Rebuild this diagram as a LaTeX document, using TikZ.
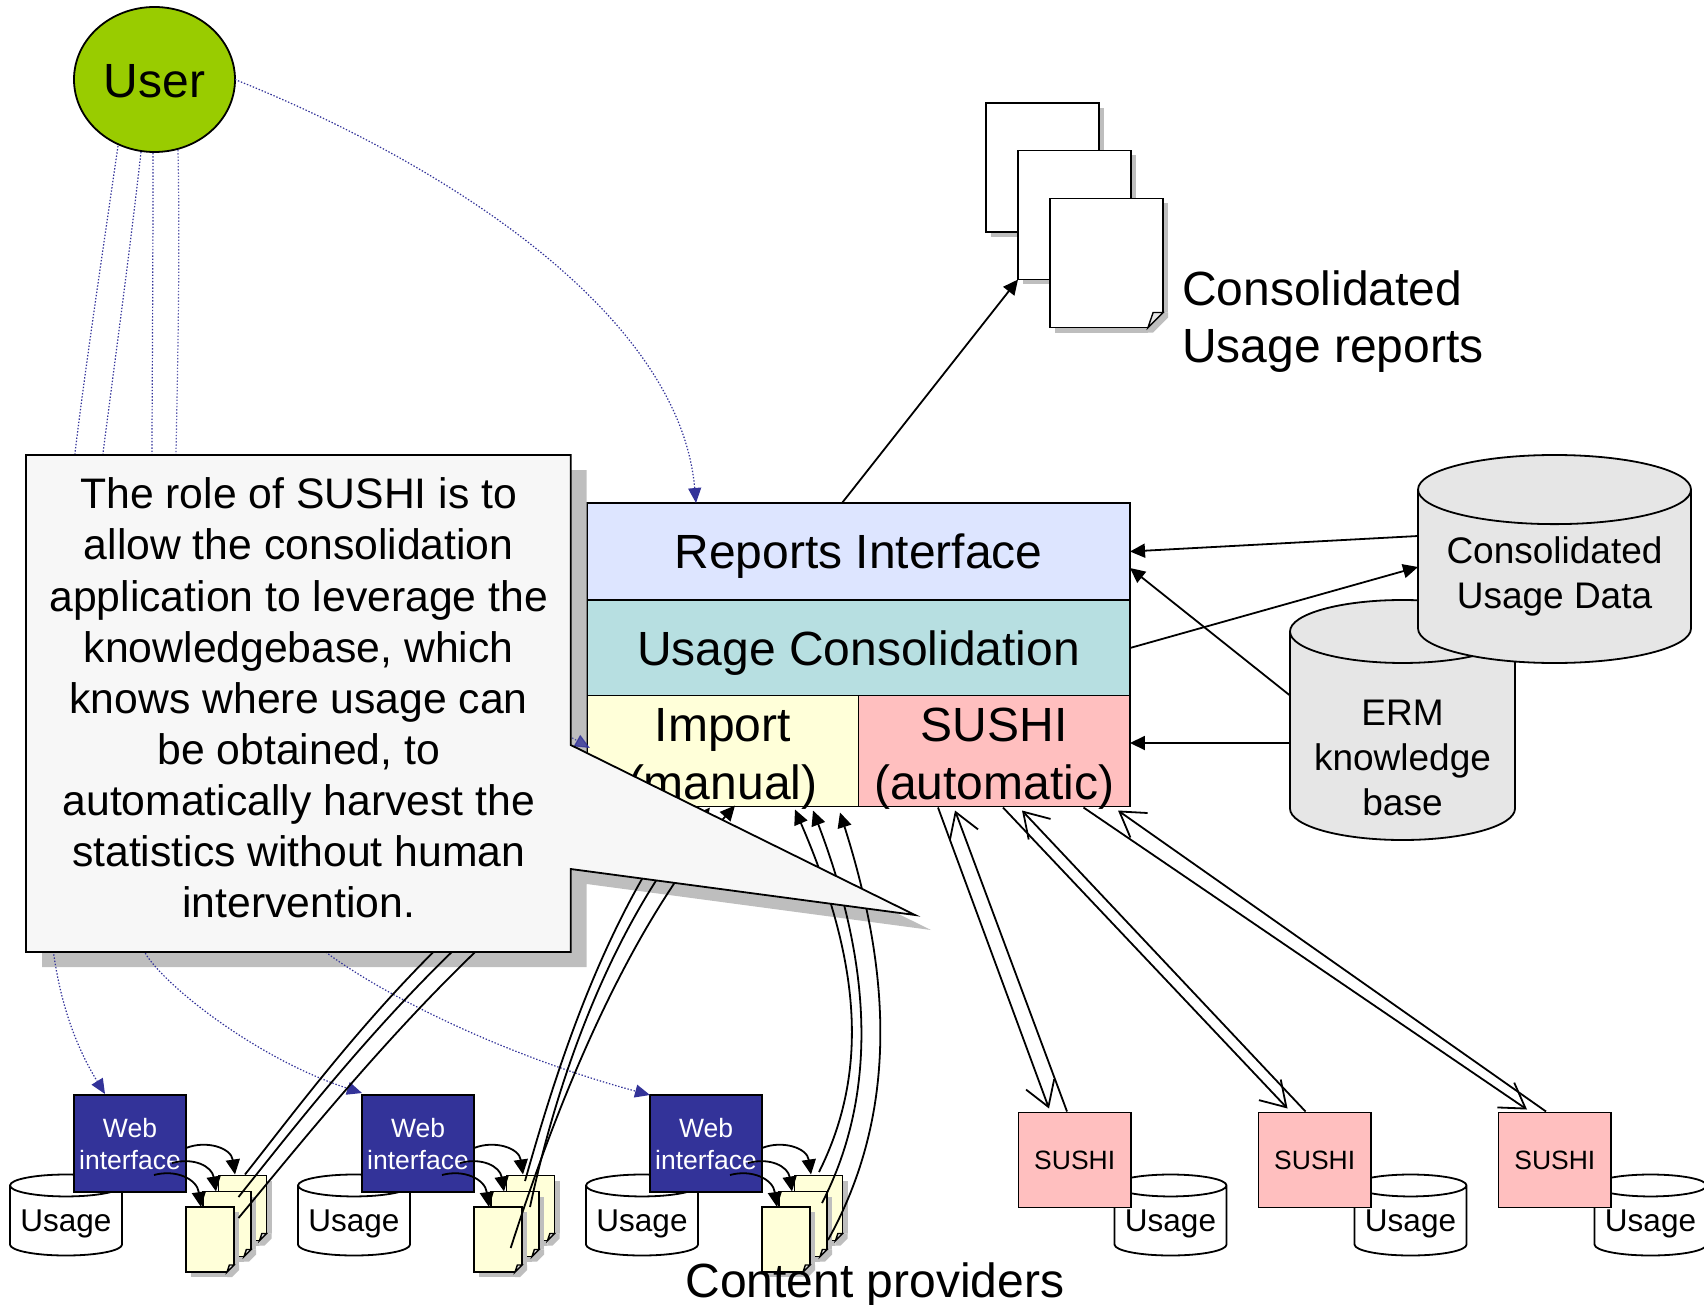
\documentclass[tikz,border=0pt]{standalone}
\usepackage{fontspec}
\setmainfont{Liberation Sans}
\usetikzlibrary{arrows.meta}
\usetikzlibrary{calc}
\usetikzlibrary{shadows}
\usetikzlibrary{shapes.geometric}
\definecolor{linkblue}{HTML}{333399}
\definecolor{usergreen}{HTML}{99CC00}
\definecolor{reportblue}{HTML}{DDE5FF}
\definecolor{consteal}{HTML}{B7DFE1}
\definecolor{paleyellow}{HTML}{FFFFD9}
\definecolor{sushipink}{HTML}{FFBFBF}
\definecolor{dbgray}{HTML}{E6E6E6}
\definecolor{notegray}{HTML}{F7F7F7}
\definecolor{shadowgray}{HTML}{BEBEBE}
\tikzset{
	blocktext/.style={font=\fontsize{48}{57.6}\selectfont, align=center, text depth=0pt},
	smalltext/.style={font=\fontsize{26.5}{32}\selectfont, align=center, text depth=0pt},
	dbtext/.style={font=\fontsize{37}{45}\selectfont, align=center},
	block/.style={draw=black, line width=1.8, inner sep=0, outer sep=0, blocktext},
	webbox/.style={block, fill=linkblue, text=white, smalltext, minimum width=112, minimum height=97},
	sushibox/.style={block, fill=sushipink, smalltext, minimum width=112.5, minimum height=95},
	dbase/.style={cylinder, shape border rotate=90, aspect=#1, draw=black, line width=1.8,
		inner sep=0, outer sep=0, anchor=shape center},
	usagedb/.style={dbase=.241, fill=white, minimum width=112, minimum height=81, text depth=0pt,
		font=\fontsize{31.5}{36}\selectfont},
	sheet/.style={rectangle, draw=black, line width=1.8, inner sep=0, outer sep=0,
		drop shadow={shadow xshift=5pt, shadow yshift=-5pt, opacity=1, fill=shadowgray}},
	bigsheet/.style={sheet, fill=white, minimum width=113, minimum height=129},
	smallsheet/.style={sheet, fill=paleyellow, minimum width=48, minimum height=65},
	feed/.style={draw=black, line width=1.8, -{Triangle[length=15pt,width=14pt]}},
	hook/.style={feed},
	duplex/.style={draw=black, line width=1.8, -{Straight Barb[length=24pt,width=30pt,line width=1.8pt]}},
	dotlink/.style={draw=linkblue, line width=1.2, dash pattern=on 1.4pt off 1.8pt,
		-{Triangle[length=15pt,width=13pt]}}
}
\def\notepath{(26,455) -- (570.7,455) -- (570.7,745) -- (915,915) -- (570.7,869) -- (570.7,952) -- (26,952) -- cycle}
% style, name, position, size of the turned corner
\newcommand{\foldedsheet}[4]{
	\node[#1] (#2) at (#3) {};
	\fill[white] ($(#2.south east)+(-#4,1.5)$) -- ($(#2.south east)+(1.5,-#4)$) -- ($(#2.south east)+(6,-#4)$) -- ($(#2.south east)+(6,6)$) -- ($(#2.south east)+(-#4,6)$) -- cycle;
	\fill[shadowgray] ($(#2.south east)+(-#4,0)$) -- ($(#2.south east)+(0,-#4)$) -- ($(#2.south east)+(5,-#4)$) -- ($(#2.south east)+(5,{5-#4})$) -- ($(#2.south east)+({5-#4},5)$) -- ($(#2.south east)+(-#4,5)$) -- cycle;
	\draw[line width=1.4, fill=dbgray] ($(#2.south east)+(-#4,0)$) -- ($(#2.south east)+({-.66*#4},-#4)$) -- ($(#2.south east)+(0,-#4)$) -- cycle;
}

\begin{document}
\begin{tikzpicture}[x=1pt,y=-1pt]
	\useasboundingbox (0,0) rectangle (1704,1305);
	\node[draw=black, line width=1.8, fill=usergreen, ellipse, minimum width=161, minimum height=145, inner sep=0, outer sep=0, blocktext] (user) at (154.5,79.5) {\rule{0pt}{36pt}User};

	\foldedsheet{bigsheet}{sheetx}{1042.5,167.5}{15}
	\foldedsheet{bigsheet}{sheety}{1074.5,215}{15}
	\foldedsheet{bigsheet}{sheetz}{1106.5,263}{15}
	\node[blocktext, align=left, anchor=west, inner sep=0] (reportslabel) at (1182,316.5) {Consolidated\\Usage reports};

	\node[block, fill=reportblue, minimum width=543, minimum height=97] (reports) at (858.5,551.5) {Reports Interface};
	\node[block, fill=consteal, minimum width=543, minimum height=96] (usagecons) at (858.5,648) {Usage Consolidation};
	\node[block, fill=paleyellow, minimum width=271.5, minimum height=111, text height=96pt] (import) at (722.7,751) {Import\\(manual)};
	\node[block, fill=sushipink, minimum width=271.5, minimum height=111, text height=96pt] (sushi) at (994.2,751) {SUSHI\\(automatic)};

	\node[dbase=.356, fill=dbgray, minimum width=225, minimum height=240, dbtext] (erm) at (1402.5,720) {\rule{0pt}{117pt}\phantom{knowledge}};
	\node[dbtext, inner sep=0] (ermlabel) at (1402.5,758) {ERM\\knowledge\\base};
	\node[dbase=.32, fill=dbgray, minimum width=273, minimum height=208, dbtext] (cdata) at (1554.5,559) {Consolidated\\Usage Data};

	\node[usagedb] (usea) at (66,1215) {Usage};
	\node[usagedb] (useb) at (354,1215) {Usage};
	\node[usagedb] (usec) at (642,1215) {Usage};
	\node[webbox] (weba) at (130,1143.5) {Web\\interface};
	\node[webbox] (webb) at (418,1143.5) {Web\\interface};
	\node[webbox] (webc) at (706,1143.5) {Web\\interface};

	\foldedsheet{smallsheet}{sheeta1}{242.5,1208}{7}
	\foldedsheet{smallsheet}{sheeta2}{227,1224}{7}
	\foldedsheet{smallsheet}{sheeta3}{210,1239.5}{7}
	\foldedsheet{smallsheet}{sheetb1}{530.5,1208}{7}
	\foldedsheet{smallsheet}{sheetb2}{515,1224}{7}
	\foldedsheet{smallsheet}{sheetb3}{498,1239.5}{7}
	\foldedsheet{smallsheet}{sheetc1}{818.5,1208}{7}
	\foldedsheet{smallsheet}{sheetc2}{803,1224}{7}
	\foldedsheet{smallsheet}{sheetc3}{786,1239.5}{7}

	\node[usagedb] (used) at (1170.5,1215) {Usage};
	\node[usagedb] (usee) at (1410.5,1215) {Usage};
	\node[usagedb] (usef) at (1650.5,1215) {Usage};
	\node[sushibox] (sushia) at (1074.7,1160) {SUSHI};
	\node[sushibox] (sushib) at (1314.7,1160) {SUSHI};
	\node[sushibox] (sushic) at (1554.8,1160) {SUSHI};

	\node[blocktext, inner sep=0] (providers) at (875,1280) {Content providers};

	\fill[shadowgray, shift={(16,15)}] \notepath;

	\draw[feed] ($(reports.north)+(-16.5,0)$) -- (sheety.south west);
	\draw[feed] ($(cdata.shape center)+(-136.5,-23)$) -- (reports.east);
	\draw[feed] (usagecons.east) -- ($(cdata.shape center)+(-136.5,8)$);
	\draw[feed] ($(erm.shape center)+(-112.5,-24.5)$) -- ($(reports.east)+(0,16.5)$);
	\draw[feed] ($(erm.shape center)+(-112.5,23)$) -- ($(sushi.east)+(0,-8)$);

	\draw[dotlink] (user.east) .. controls (460,170) and (680,320) .. ($(reports.north)+(-162.5,0)$);
	\draw[dotlink] ($(user.south)+(-36.5,-6)$) .. controls (100,270) and (85,370) .. (75,453) .. controls (50,650) and (40,880) .. (54,956) .. controls (62,1010) and (78,1050) .. ($(weba.north)+(-25,-1)$);
	\draw[dotlink] ($(user.south)+(-13.5,0)$) .. controls (130,250) and (115,360) .. (103,453) .. controls (90,650) and (100,880) .. (147,956) .. controls (170,990) and (260,1060) .. ($(webb.north)+(-56,-2)$);
	\draw[dotlink] ($(user.south)+(-1.5,1)$) .. controls (153,300) and (152,400) .. (152,453) .. controls (150,700) and (230,880) .. (331,956) .. controls (400,1005) and (520,1060) .. ($(webc.north)+(-56,0)$);
	\draw[dotlink, opacity=.8] ($(user.south)+(23.5,-2)$) .. controls (180,250) and (178,350) .. (176,453) .. controls (175,560) and (400,640) .. ($(import.west)+(3,-3)$);

	\draw[hook] ($(weba.east)+(0,4.5)$) .. controls +(20,-8) and +(-4,-27) .. ($(sheeta1.north)+(-7.5,-1)$);
	\draw[hook] ($(weba.east)+(-14,19.5)$) .. controls +(22,-6) and +(-4,-25) .. ($(sheeta2.north)+(-11,0)$);
	\draw[hook] ($(weba.east)+(-32,31.5)$) .. controls +(22,-6) and +(-4,-28) .. ($(sheeta3.north)+(-9,0)$);
	\draw[hook] ($(webb.east)+(0,4.5)$) .. controls +(20,-8) and +(-4,-27) .. ($(sheetb1.north)+(-7.5,-1)$);
	\draw[hook] ($(webb.east)+(-14,19.5)$) .. controls +(22,-6) and +(-4,-25) .. ($(sheetb2.north)+(-11,0)$);
	\draw[hook] ($(webb.east)+(-32,31.5)$) .. controls +(22,-6) and +(-4,-28) .. ($(sheetb3.north)+(-9,0)$);
	\draw[hook] ($(webc.east)+(0,4.5)$) .. controls +(20,-8) and +(-4,-27) .. ($(sheetc1.north)+(-7.5,-1)$);
	\draw[hook] ($(webc.east)+(-14,19.5)$) .. controls +(22,-6) and +(-4,-25) .. ($(sheetc2.north)+(-11,0)$);
	\draw[hook] ($(webc.east)+(-32,31.5)$) .. controls +(22,-6) and +(-4,-28) .. ($(sheetc3.north)+(-9,0)$);

	\draw[feed] ($(sheeta1.north)+(2.5,-1)$) .. controls (319,1081) and (450,900) .. ($(import.south)+(-97.7,1)$);
	\draw[feed] ($(sheeta2.center)+(11.5,-27)$) .. controls (320,1095) and (470,900) .. ($(import.south)+(-77.7,1)$);
	\draw[feed] ($(sheeta3.center)+(28.5,-21.5)$) .. controls (330,1108) and (490,905) .. ($(import.south)+(-57.7,1)$);
	\draw[feed] ($(sheetb1.center)+(-5.5,-27)$) .. controls (555,1075) and (600,930) .. ($(import.south)+(-32.7,-1)$);
	\draw[feed] ($(sheetb2.center)+(15,-17)$) .. controls (555,1090) and (605,935) .. ($(import.south)+(-12.7,1)$);
	\draw[feed] ($(sheetb3.center)+(12.7,8.5)$) .. controls (555,1110) and (625,930) .. ($(import.south)+(12.3,-1)$);
	\draw[feed] ($(sheetc1.center)+(0.5,-36)$) .. controls (870,1070) and (860,960) .. ($(import.south)+(72.3,3)$);
	\draw[feed] ($(sheetc2.center)+(19,-21)$) .. controls (880,1090) and (870,960) .. ($(import.south)+(90.3,4)$);
	\draw[feed] ($(sheetc3.center)+(42,0.5)$) .. controls (900,1110) and (890,970) .. ($(import.south)+(117.3,6)$);

	\draw[duplex] ($(sushi.south)+(-56.2,1)$) -- ($(sushia.north)+(-25.7,-4)$);
	\draw[duplex] ($(sushia.north)+(-7.7,-1)$) -- ($(sushi.south)+(-39.2,4)$);
	\draw[duplex] ($(sushi.south)+(8.8,1)$) -- ($(sushib.north)+(-27.2,-4)$);
	\draw[duplex] ($(sushib.north)+(-9.2,-1)$) -- ($(sushi.south)+(27.8,4)$);
	\draw[duplex] ($(sushi.south)+(89.3,1)$) -- ($(sushic.north)+(-27.8,-3)$);
	\draw[duplex] ($(sushic.north)+(-8.8,-1)$) -- ($(sushi.south)+(123.8,4)$);

	\draw[draw=black, line width=1.8, fill=notegray] \notepath;
	\node[font=\fontsize{42.7}{51.1}\selectfont, align=center, inner sep=0] (rolenote) at (298.7,698) {The role of SUSHI is to\\allow the consolidation\\application to leverage the\\knowledgebase, which\\knows where usage can\\be obtained, to\\automatically harvest the\\statistics without human\\intervention.};
\end{tikzpicture}
\end{document}
